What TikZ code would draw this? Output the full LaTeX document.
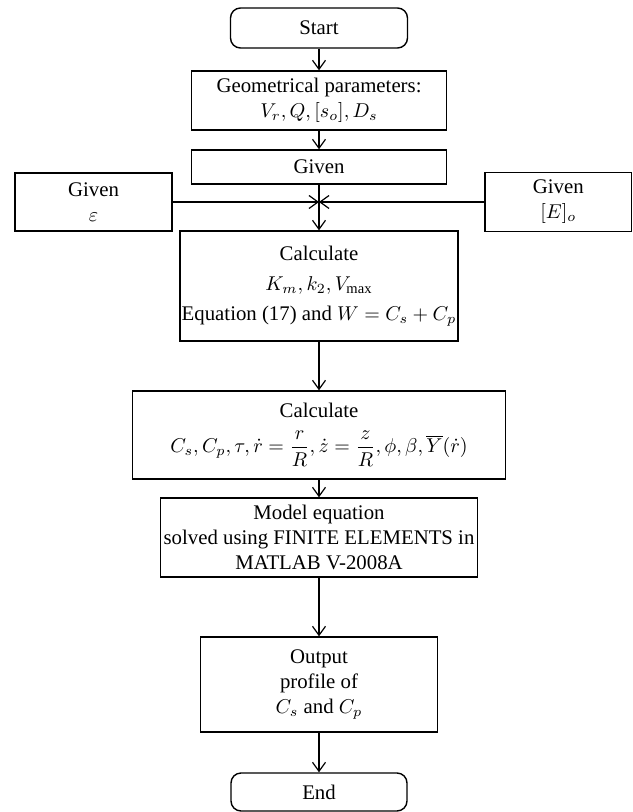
\documentclass[tikz,border=0pt]{standalone}
\usepackage{amsmath}
\usepackage{fontspec}
\setmainfont{Liberation Serif}
\usepackage{tikz}
\usetikzlibrary{arrows.meta}

\begin{document}
\begin{tikzpicture}[x=0.5pt, y=-0.5pt,
    box/.style={draw, line width=0.7pt, inner sep=0pt, align=center,
                font=\fontsize{10.4}{12.5}\selectfont},
    term/.style={box, rounded corners=5pt},
    arr/.style={-{Straight Barb[length=4.5pt, width=6.5pt]}, line width=0.6pt}]
    \useasboundingbox (0,0) rectangle (632,812);

    % main column
    \node[term, minimum width=88.5pt, minimum height=20pt] (start) at (319,28) {Start};
    \node[box, minimum width=127.5pt, minimum height=29.5pt] (geom) at (319,100.5)
        {Geometrical parameters:\\ $V_r, Q, [s_o], D_s$};
    \node[box, minimum width=127.5pt, minimum height=17pt] (given) at (319,167) {Given};
    \node[box, minimum width=139pt, minimum height=55pt] (calc) at (319,286)
        {Calculate\\[2.5pt] $K_m, k_2, V_{\max}$\\[2.5pt] Equation (17) and $W = C_s + C_p$};
    \node[box, minimum width=186.5pt, minimum height=44pt] (calcb) at (319,435)
        {Calculate\\[5pt] $C_s, C_p, \tau, \dot{r} = \dfrac{r}{R}, \dot{z} = \dfrac{z}{R}, \phi, \beta, \overline{Y}(\dot{r})$};
    \node[box, minimum width=158.5pt, minimum height=39.5pt] (model) at (319,537.5)
        {Model equation\\ solved using FINITE ELEMENTS in\\ MATLAB V-2008A};
    \node[box, minimum width=118.5pt, minimum height=47.5pt] (output) at (319,684.5)
        {Output\\ profile of\\ $C_s$ and $C_p$};
    \node[term, minimum width=88pt, minimum height=19pt] (finish) at (319,792) {End};

    % side inputs
    \node[box, minimum width=78.5pt, minimum height=29pt] (giveneps) at (93.5,202)
        {Given\\ $\varepsilon$};
    \node[box, minimum width=73.25pt, minimum height=29.5pt] (givenE) at (558.25,202)
        {Given\\ $[E]_o$};
    \coordinate (meet) at (319,202);

    \draw[arr] (start) -- (geom);
    \draw[arr] (geom) -- (given);
    \draw[arr] (given) -- (calc);
    \draw[arr] (giveneps) -- (meet);
    \draw[arr] (givenE) -- (meet);
    \draw[arr] (calc) -- (calcb);
    \draw[arr] (calcb) -- (model);
    \draw[arr] (model) -- (output);
    \draw[arr] (output) -- (finish);
\end{tikzpicture}
\end{document}
